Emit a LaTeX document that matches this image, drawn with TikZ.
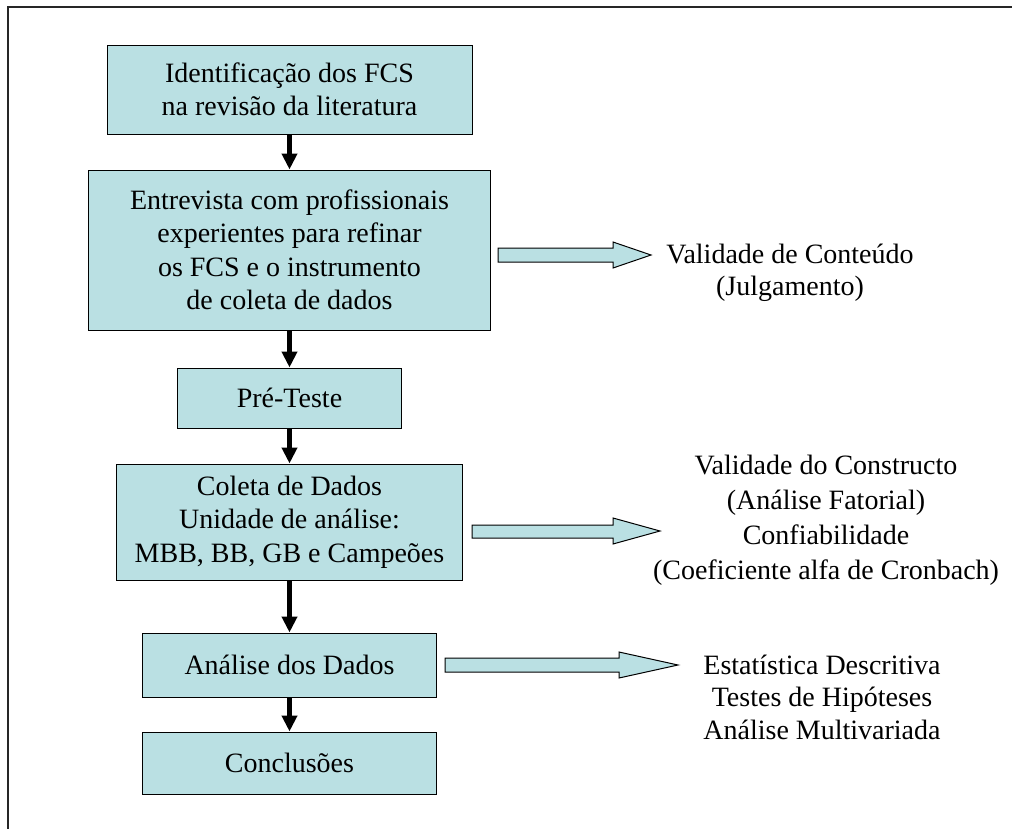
\documentclass[tikz,border=0pt]{standalone}
\usepackage{fontspec}
\setmainfont{Liberation Serif}
\usetikzlibrary{arrows.meta}
\definecolor{boxfill}{RGB}{186,224,227}
\begin{document}
\begin{tikzpicture}[x=1pt,y=-1pt,
  stage/.style={draw=black, line width=1pt, fill=boxfill, inner sep=0pt,
    align=center, font=\fontsize{28}{33.5}\selectfont},
  note/.style={align=center, inner sep=0pt},
  flow/.style={line width=4.5pt, -{Triangle[width=15pt,length=16pt]}},
  bigarrow/.style={draw=black, line width=1pt, fill=boxfill, line join=miter}]
\useasboundingbox (0,0) rectangle (1012,828);
% page frame
\draw[line width=1.6pt, black!85] (8,830) -- (8,7) -- (1014,7);

% process stages
\node[stage, minimum width=365pt, minimum height=89pt] (b1) at (289.5,89.5)
  {Identificação dos FCS\\na revisão da literatura};
\node[stage, minimum width=402pt, minimum height=160pt] (b2) at (289.5,250)
  {Entrevista com profissionais\\experientes para refinar\\os FCS e o instrumento\\de coleta de dados};
\node[stage, minimum width=224pt, minimum height=60pt] (b3) at (289.5,398) {Pré-Teste};
\node[stage, minimum width=346pt, minimum height=116pt] (b4) at (289.5,522)
  {Coleta de Dados\\Unidade de análise:\\MBB, BB, GB e Campeões};
\node[stage, minimum width=294pt, minimum height=64pt] (b5) at (289.5,665) {Análise dos Dados};
\node[stage, minimum width=294pt, minimum height=62pt] (b6) at (289.5,763) {Conclusões};

% flow between stages
\draw[flow] (b1.south) -- (b2.north);
\draw[flow] (b2.south) -- (b3.north);
\draw[flow] (b3.south) -- (b4.north);
\draw[flow] (b4.south) -- (b5.north);
\draw[flow] (b5.south) -- (b6.north);

% validation notes
\node[note, font=\fontsize{28}{32}\selectfont] (t1) at (790,273)
  {Validade de Conteúdo\\(Julgamento)};
\node[note, font=\fontsize{28}{35}\selectfont] (t2) at (826,520)
  {Validade do Constructo\\(Análise Fatorial)\\Confiabilidade\\(Coeficiente alfa de Cronbach)};
\node[note, font=\fontsize{28}{32.5}\selectfont] (t3) at (822,697)
  {Estatística Descritiva\\Testes de Hipóteses\\Análise Multivariada};

% block arrows towards the notes
\draw[bigarrow] (498,248) -- (613,248) -- (613,242) -- (651,255) -- (613,268)
  -- (613,262) -- (498,262) -- cycle;
\draw[bigarrow] (472,525) -- (613,525) -- (613,518) -- (660,531) -- (613,544)
  -- (613,538) -- (472,538) -- cycle;
\draw[bigarrow] (445,658) -- (619,658) -- (619,652) -- (678,665) -- (619,678)
  -- (619,672) -- (445,672) -- cycle;
\end{tikzpicture}
\end{document}
